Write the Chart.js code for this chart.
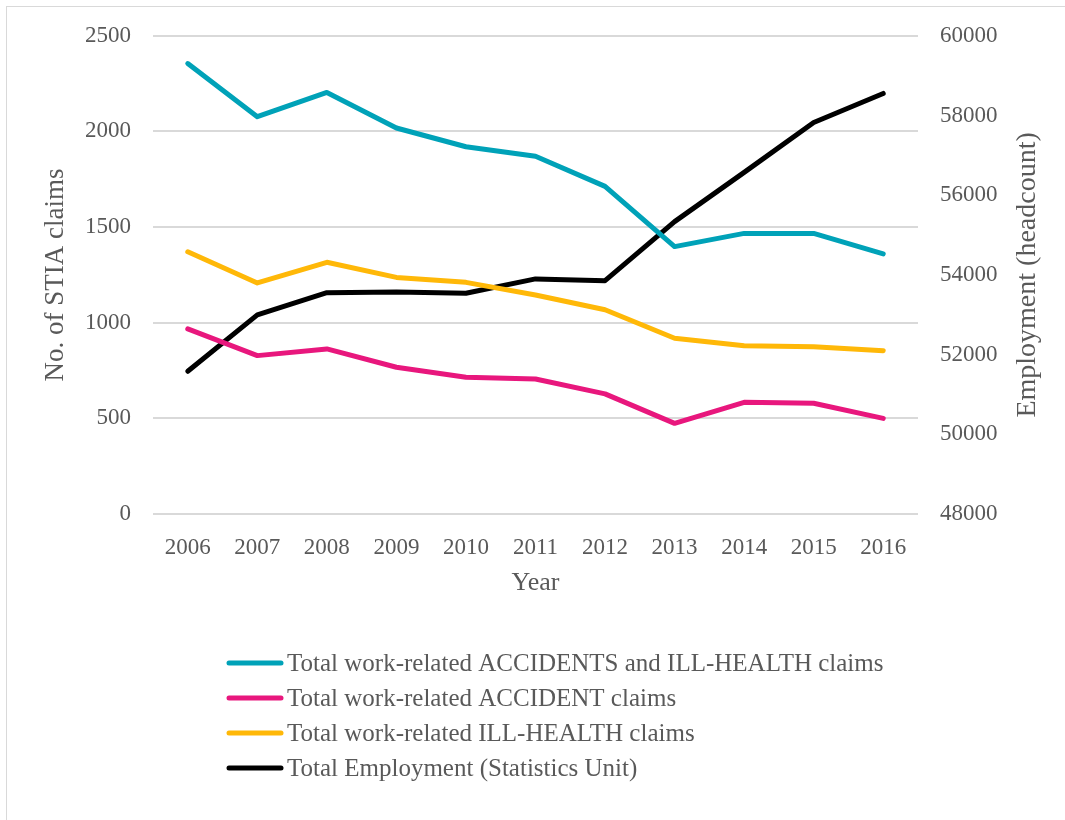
<!DOCTYPE html>
<html>
<head>
<meta charset="utf-8">
<script src="https://cdn.jsdelivr.net/npm/chart.js@4.4.1/dist/chart.umd.min.js"></script>
<style>
  html, body { margin: 0; padding: 0; background: #ffffff; }
  body { width: 1065px; height: 820px; position: relative; overflow: hidden; }
  #frame { position: absolute; left: 6px; top: 6px; width: 1200px; height: 1000px; border-left: 1px solid #d9d9d9; border-top: 1px solid #d9d9d9; }
  #wrap { position: absolute; left: 0; top: 0; width: 1065px; height: 820px; }
</style>
</head>
<body>
<div id="frame"></div>
<div id="wrap"><canvas id="c" width="1065" height="820"></canvas></div>
<script>
const years = ['2006','2007','2008','2009','2010','2011','2012','2013','2014','2015','2016'];
const totalClaims = [2355, 2077, 2204, 2018, 1920, 1870, 1713, 1398, 1467, 1467, 1360];
const accidentClaims = [968, 828, 863, 767, 715, 706, 628, 474, 584, 579, 500];
const illHealthClaims = [1371, 1208, 1316, 1237, 1211, 1145, 1068, 919, 880, 875, 854];
const employment = [51581, 52996, 53555, 53573, 53538, 53899, 53856, 55336, 56572, 57826, 58553];
const seriesNames = [
  'Total work-related ACCIDENTS and ILL-HEALTH claims',
  'Total work-related ACCIDENT claims',
  'Total work-related ILL-HEALTH claims',
  'Total Employment (Statistics Unit)'
];
const seriesColors = ['#00A2B8', '#E8177D', '#FFB808', '#000000'];
const leftTitle = 'No. of STIA claims';
const rightTitle = 'Employment (headcount)';
const xTitle = 'Year';

const FONT = "'Liberation Serif', 'Times New Roman', serif";
const TXT = '#595959';

const rightTitlePlugin = {
  id: 'rightTitle',
  afterDraw(chart) {
    const ctx = chart.ctx;
    const a = chart.chartArea;
    ctx.save();
    ctx.fillStyle = TXT;
    ctx.font = "28px " + FONT;
    ctx.textAlign = 'center';
    ctx.textBaseline = 'middle';
    ctx.translate(1028, (a.top + a.bottom) / 2);
    ctx.rotate(-Math.PI / 2);
    ctx.fillText(rightTitle, 0, 0);
    ctx.restore();
  }
};

const legendPlugin = {
  id: 'vertLegend',
  afterDraw(chart) {
    const ctx = chart.ctx;
    const rows = [663, 698, 733, 768];
    ctx.save();
    chart.data.datasets.forEach((ds, i) => {
      const y = rows[i];
      ctx.strokeStyle = ds.borderColor;
      ctx.lineWidth = 5;
      ctx.lineCap = 'round';
      ctx.beginPath();
      ctx.moveTo(229, y);
      ctx.lineTo(281, y);
      ctx.stroke();
      ctx.fillStyle = TXT;
      ctx.font = "25px " + FONT;
      ctx.textAlign = 'left';
      ctx.textBaseline = 'middle';
      ctx.fillText(ds.label, 287, y + 1);
    });
    ctx.restore();
  }
};

const mk = (label, data, color, axis) => ({
  label, data, yAxisID: axis,
  borderColor: color, backgroundColor: color,
  borderWidth: 5, pointRadius: 0, pointHoverRadius: 0,
  borderCapStyle: 'round', borderJoinStyle: 'round',
  tension: 0, fill: false
});

const plain = v => String(v);

new Chart(document.getElementById('c'), {
  type: 'line',
  data: {
    labels: years,
    datasets: [
      mk(seriesNames[0], totalClaims, seriesColors[0], 'y'),
      mk(seriesNames[1], accidentClaims, seriesColors[1], 'y'),
      mk(seriesNames[2], illHealthClaims, seriesColors[2], 'y'),
      mk(seriesNames[3], employment, seriesColors[3], 'y2')
    ]
  },
  options: {
    responsive: false,
    animation: false,
    events: [],
    layout: { padding: { top: 35, bottom: 217, left: 0, right: 0 } },
    plugins: { legend: { display: false }, tooltip: { enabled: false } },
    scales: {
      x: {
        offset: true,
        grid: { display: false, drawTicks: false },
        border: { display: false },
        ticks: { color: TXT, font: { family: FONT, size: 23 }, padding: 20, maxRotation: 0 },
        title: { display: true, text: xTitle, color: TXT, font: { family: FONT, size: 26 }, padding: { top: 0, bottom: 4 } },
        afterFit(s) { s.height = 89; }
      },
      y: {
        position: 'left',
        min: 0, max: 2500,
        ticks: { stepSize: 500, color: TXT, font: { family: FONT, size: 23 }, padding: 22, callback: plain },
        grid: { color: '#d9d9d9', lineWidth: 2, drawTicks: false },
        border: { display: false },
        title: { display: true, text: leftTitle, color: TXT, font: { family: FONT, size: 27 }, padding: { top: 40, bottom: 0 } },
        afterFit(s) { s.width = 153; }
      },
      y2: {
        position: 'right',
        min: 48000, max: 60000,
        ticks: { stepSize: 2000, color: TXT, font: { family: FONT, size: 23 }, padding: 22, callback: plain },
        grid: { display: false, drawTicks: false },
        border: { display: false },
        afterFit(s) { s.width = 147; }
      }
    }
  },
  plugins: [rightTitlePlugin, legendPlugin]
});
</script>
</body>
</html>
